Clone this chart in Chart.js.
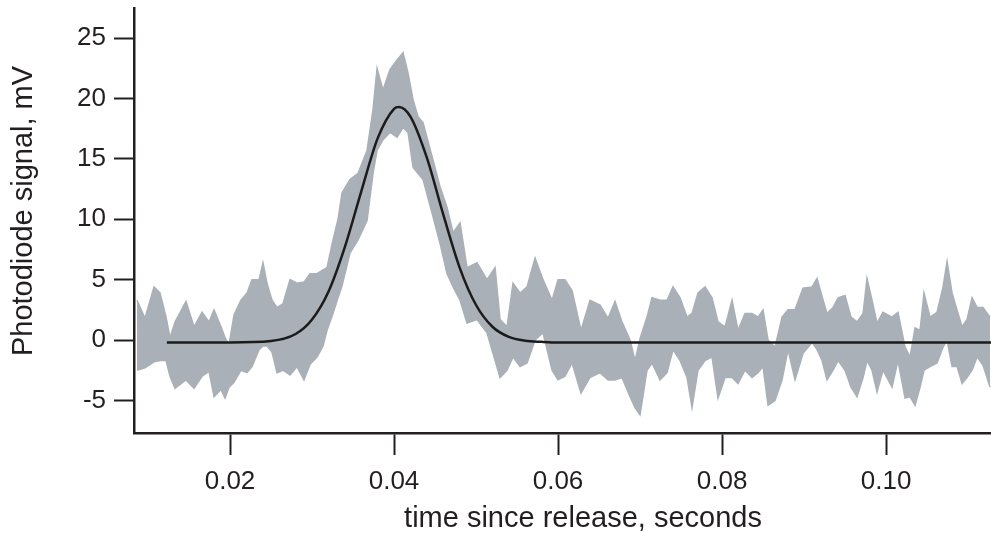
<!DOCTYPE html>
<html>
<head>
<meta charset="utf-8">
<script src="https://cdn.jsdelivr.net/npm/chart.js@4.4.1/dist/chart.umd.min.js"></script>
<style>
  html, body { margin: 0; padding: 0; background: #fff; }
  canvas { display: block; }
</style>
</head>
<body>
<canvas id="chart" width="991" height="533"></canvas>
<script>
// ================= DATA =================
// tick labels
const xTickValues = [0.02, 0.04, 0.06, 0.08, 0.10];
const xTickLabels = ["0.02", "0.04", "0.06", "0.08", "0.10"];
const yTickValues = [-5, 0, 5, 10, 15, 20, 25];

// photodiode trace, read as upper / lower envelope (mV) at each time (s)
const sampleTimes = [
    0.00866, 0.00963, 0.01073, 0.01146, 0.01220, 0.01268, 0.01329, 0.01463, 0.01561, 0.01659,
    0.01744, 0.01805, 0.01890, 0.01939, 0.01988, 0.02049, 0.02134, 0.02207, 0.02268, 0.02354,
    0.02402, 0.02451, 0.02512, 0.02573, 0.02646, 0.02732, 0.02817, 0.02902, 0.02976, 0.03061,
    0.03134, 0.03183, 0.03256, 0.03317, 0.03366, 0.03463, 0.03561, 0.03671, 0.03744, 0.03793,
    0.03866, 0.03951, 0.04037, 0.04110, 0.04171, 0.04232, 0.04293, 0.04354, 0.04476, 0.04561,
    0.04646, 0.04720, 0.04805, 0.04890, 0.05012, 0.05134, 0.05232, 0.05293, 0.05378, 0.05451,
    0.05537, 0.05622, 0.05720, 0.05817, 0.05927, 0.06000, 0.06085, 0.06171, 0.06280, 0.06390,
    0.06512, 0.06610, 0.06695, 0.06780, 0.06878, 0.06939, 0.07000, 0.07085, 0.07146, 0.07244,
    0.07329, 0.07402, 0.07488, 0.07573, 0.07634, 0.07707, 0.07793, 0.07878, 0.07951, 0.08037,
    0.08122, 0.08195, 0.08280, 0.08366, 0.08439, 0.08500, 0.08561, 0.08646, 0.08732, 0.08805,
    0.08890, 0.08988, 0.09098, 0.09159, 0.09220, 0.09280, 0.09354, 0.09415, 0.09500, 0.09573,
    0.09646, 0.09720, 0.09768, 0.09829, 0.09890, 0.09963, 0.10073, 0.10146, 0.10232, 0.10293,
    0.10354, 0.10415, 0.10463, 0.10537, 0.10622, 0.10695, 0.10744, 0.10805, 0.10866, 0.10927,
    0.10988, 0.11049, 0.11110, 0.11183, 0.11268
];
const signalUpper = [
    3.3, 1.8, 4.4, 3.9, 1.9, 0.2, 1.5, 3.2, 1.1, 2.3,
    1.5, 2.5, 1.1, 0.2, -0.4, 2.1, 3.3, 3.9, 5.0, 5.0,
    6.4, 4.7, 3.3, 2.7, 3.0, 5.0, 4.7, 4.8, 5.5, 5.5,
    5.8, 6.0, 8.3, 10.0, 12.2, 13.3, 13.8, 15.7, 19.1, 22.5,
    20.7, 22.4, 23.2, 23.8, 22.1, 19.9, 18.5, 18.0, 14.9, 12.7,
    11.0, 8.9, 9.7, 6.0, 6.4, 5.0, 6.0, 1.7, 1.1, 4.7,
    3.9, 4.4, 6.8, 5.0, 3.3, 5.0, 5.0, 4.1, 0.8, 3.3,
    2.9, 1.8, 3.2, 1.5, 0.0, -1.7, 0.1, 1.9, 3.5, 3.3,
    3.3, 4.4, 3.5, 1.9, 2.2, 3.9, 4.4, 3.5, 1.5, 1.1,
    3.3, 0.8, 2.2, 2.2, 1.9, 2.5, 0.0, -0.6, 1.9, 2.5,
    2.5, 4.3, 4.4, 5.1, 3.6, 2.2, 2.7, 3.5, 3.7, 1.9,
    1.5, 2.2, 5.1, 3.3, 1.4, 2.3, 1.9, 2.3, -0.6, -1.4,
    1.0, 0.8, 3.9, 1.9, 2.3, 4.4, 6.5, 3.9, 2.5, 1.1,
    1.7, 3.5, 2.7, 2.7, 1.9
];
const signalLower = [
    -2.5, -2.3, -1.8, -1.7, -1.7, -3.0, -4.0, -3.3, -4.0, -3.0,
    -2.6, -4.7, -4.1, -4.8, -3.9, -3.5, -2.5, -2.7, -2.2, -0.8,
    -0.5, -0.5, -1.0, -2.7, -2.5, -2.9, -2.2, -3.3, -2.0, -1.4,
    -0.5, 0.8, 2.2, 3.5, 4.5, 7.2, 8.3, 9.9, 13.8, 15.7,
    16.6, 17.2, 16.8, 17.6, 17.2, 14.3, 13.8, 13.3, 10.2, 8.0,
    5.5, 4.4, 3.3, 1.4, 1.7, 0.6, -1.7, -3.1, -2.5, -1.4,
    -2.2, -1.9, 0.0, 0.6, -2.5, -3.3, -3.0, -1.9, -4.4, -3.1,
    -2.7, -3.3, -3.3, -3.1, -4.7, -5.6, -6.2, -2.5, -1.9, -3.3,
    -2.7, -0.8, -1.7, -3.1, -5.6, -2.5, -1.7, -1.4, -4.8, -3.1,
    -3.1, -3.6, -2.5, -3.1, -2.7, -2.2, -5.4, -5.0, -3.3, -0.8,
    -3.3, -1.1, -0.2, -0.8, -1.7, -3.3, -2.5, -1.7, -2.5, -3.9,
    -4.7, -3.1, -1.7, -2.5, -4.3, -2.5, -3.9, -1.7, -4.8, -4.7,
    -5.4, -3.9, -2.5, -2.2, -1.9, -0.6, 0.0, -2.2, -2.2, -3.6,
    -3.1, -2.5, -1.4, -2.1, -3.9
];

// fitted curve (black)
const fitTimes = [0.0123, 0.020, 0.025, 0.028, 0.030, 0.032, 0.034, 0.036, 0.038, 0.040,
    0.0406, 0.042, 0.044, 0.046, 0.048, 0.050, 0.052, 0.054, 0.056, 0.058,
    0.060, 0.070, 0.1128];
const fitValues = [-0.2, -0.2, -0.08, 0.5, 1.7, 4.0, 7.7, 12.3, 16.7, 19.15,
    19.3, 18.5, 15.1, 10.4, 6.0, 2.9, 1.1, 0.26, -0.06, -0.15,
    -0.2, -0.2, -0.2];

// ================= STYLE =================
const traceColor = "#aab0b7";
const inkColor = "#231f20";
const fontFamily = '"Liberation Sans", Arial, Helvetica, sans-serif';

// axis titles drawn by hand so they sit where the original has them
const axisTitles = {
    id: "axisTitles",
    afterDraw(chart) {
        const ctx = chart.ctx;
        ctx.save();
        ctx.fillStyle = inkColor;
        ctx.font = "29px " + fontFamily;
        ctx.textAlign = "center";
        ctx.textBaseline = "alphabetic";
        ctx.fillText("time since release, seconds", 583, 527);
        ctx.translate(32, 211);
        ctx.rotate(-Math.PI / 2);
        ctx.fillText("Photodiode signal, mV", 0, 0);
        ctx.restore();
    }
};

const ctx = document.getElementById("chart").getContext("2d");

new Chart(ctx, {
    type: "line",
    data: {
        datasets: [
            {
                label: "fit",
                data: fitTimes.map((t, i) => ({ x: t, y: fitValues[i] })),
                borderColor: "#1b1b1b",
                borderWidth: 2.5,
                pointRadius: 0,
                cubicInterpolationMode: "monotone",
                fill: false,
                order: 0
            },
            {
                label: "upper",
                data: sampleTimes.map((t, i) => ({ x: t, y: signalUpper[i] })),
                borderColor: traceColor,
                borderWidth: 1.5,
                pointRadius: 0,
                tension: 0,
                fill: false,
                order: 1
            },
            {
                label: "lower",
                data: sampleTimes.map((t, i) => ({ x: t, y: signalLower[i] })),
                borderColor: traceColor,
                backgroundColor: traceColor,
                borderWidth: 1.5,
                pointRadius: 0,
                tension: 0,
                fill: "-1",
                order: 2
            }
        ]
    },
    options: {
        responsive: false,
        animation: false,
        layout: { padding: { top: 8, left: 0, right: 0, bottom: 0 } },
        plugins: {
            legend: { display: false },
            tooltip: { enabled: false }
        },
        scales: {
            x: {
                type: "linear",
                min: 0.00829,
                max: 0.1128,
                afterFit: scale => {
                    scale.height = 100;
                    scale.paddingLeft = 0;
                    scale.paddingRight = 0;
                },
                afterBuildTicks: scale => {
                    scale.ticks = xTickValues.map(v => ({ value: v }));
                },
                grid: {
                    drawOnChartArea: false,
                    drawTicks: true,
                    tickLength: 22,
                    tickWidth: 2,
                    tickColor: inkColor
                },
                border: { display: true, color: inkColor, width: 2.5 },
                ticks: {
                    color: inkColor,
                    font: { family: fontFamily, size: 26 },
                    padding: 11,
                    maxRotation: 0,
                    callback: (v, i) => xTickLabels[i]
                }
            },
            y: {
                type: "linear",
                min: -7.7,
                max: 27.5,
                afterFit: scale => {
                    scale.width = 134;
                    scale.paddingTop = 0;
                    scale.paddingBottom = 0;
                },
                afterBuildTicks: scale => {
                    scale.ticks = yTickValues.map(v => ({ value: v }));
                },
                grid: {
                    drawOnChartArea: false,
                    drawTicks: true,
                    tickLength: 20,
                    tickWidth: 2,
                    tickColor: inkColor
                },
                border: { display: true, color: inkColor, width: 2.5 },
                ticks: {
                    color: inkColor,
                    font: { family: fontFamily, size: 26 },
                    padding: 8,
                    callback: v => String(v)
                }
            }
        }
    },
    plugins: [axisTitles]
});
</script>
</body>
</html>
